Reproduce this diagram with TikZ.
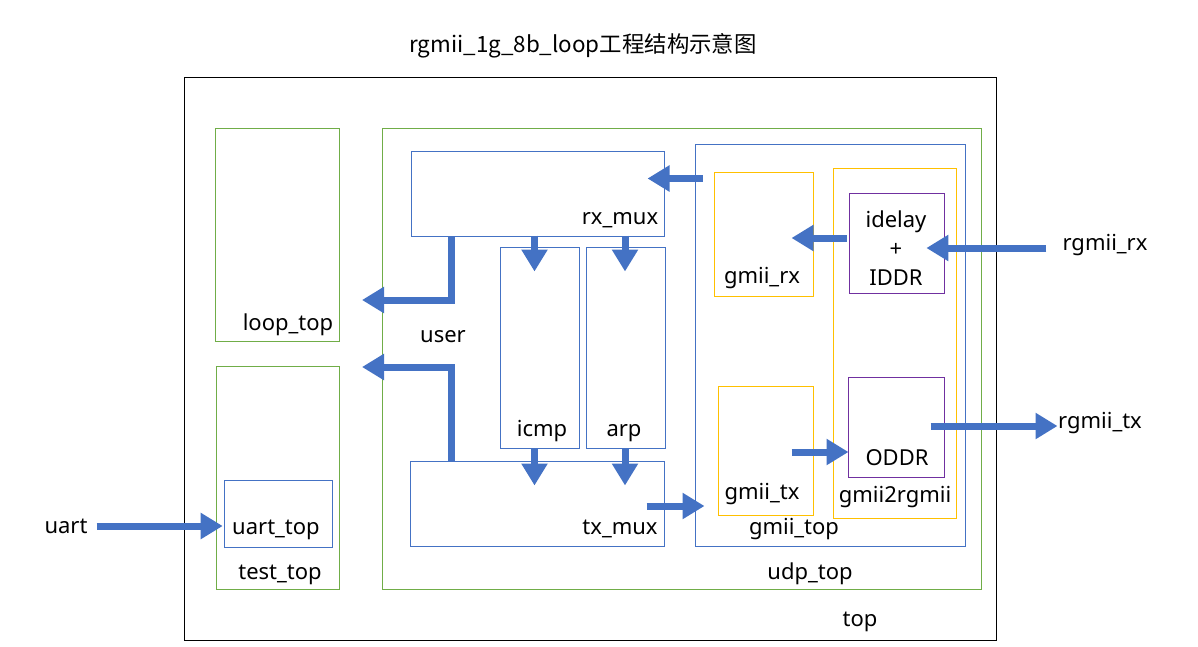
\documentclass[tikz,border=0pt]{standalone}
\usepackage{fontspec}
\setmainfont{Noto Sans}
\newfontfamily\cjk{Noto Sans CJK SC}
\usetikzlibrary{arrows.meta,positioning,calc,fit}

\definecolor{flowblue}{HTML}{4472C4}
\definecolor{modgreen}{HTML}{70AD47}
\definecolor{modyellow}{HTML}{FFC000}
\definecolor{modpurple}{HTML}{7030A0}

\begin{document}
\begin{tikzpicture}[
    x=1pt, y=-1pt,
    every node/.style={
        font=\fontsize{22}{29}\selectfont,
        align=center
    },
    box/.style={
        draw,
        line width=1pt,
        inner sep=0pt
    },
    topbox/.style={box, draw=black},
    greenbox/.style={box, draw=modgreen},
    bluebox/.style={box, draw=flowblue},
    yellowbox/.style={box, draw=modyellow},
    purplebox/.style={box, draw=modpurple},
    tag/.style={inner sep=0pt},
    flow/.style={
        draw=flowblue,
        line width=7pt,
        -{Triangle[length=22pt,width=25pt]}
    }
]

\useasboundingbox (0,0) rectangle (1198,646);

% ============================================================
% Title
% ============================================================

\node[tag, font=\fontsize{22.4}{28}\selectfont] (title) at (583,46)
{\cjk rgmii\_1g\_8b\_loop工程结构示意图};

% ============================================================
% Outer frame and sub-modules
% ============================================================

\node[topbox, fit={(184,77) (996,640)}] (top) {};
\node[tag] (toplbl) at (860,622) {top};

\node[greenbox, fit={(215,128) (339,341)}] (looptop) {};
\node[tag] (looplbl) at (288,325) {loop\_top};

\node[greenbox, fit={(216,366) (339,589)}] (testtop) {};
\node[tag] (testlbl) at (280,575) {test\_top};

\node[bluebox, fit={(224,480) (332,547)}] (uarttop) {};
\node[tag] (uartlbl) at (276,530) {uart\_top};

\node[greenbox, fit={(382,128) (981,589)}] (udptop) {};
\node[tag] (udplbl) at (810,574) {udp\_top};

% ============================================================
% udp_top internals
% ============================================================

\node[bluebox, fit={(411,151) (664,236)}] (rxmux) {};
\node[tag] (rxmuxlbl) at (620,220) {rx\_mux};

\node[bluebox, fit={(500,247) (579,448)}] (icmp) {};
\node[tag] (icmplbl) at (542,431) {icmp};

\node[bluebox, fit={(586,247) (665,448)}] (arp) {};
\node[tag] (arplbl) at (624,433) {arp};

\node[bluebox, fit={(410,461) (664,546)}] (txmux) {};
\node[tag] (txmuxlbl) at (620,529) {tx\_mux};

\node[tag] (user) at (443,337) {user};

% ============================================================
% gmii_top internals
% ============================================================

\node[bluebox, fit={(695,144) (965,546)}] (gmiitop) {};
\node[tag] (gmiitoplbl) at (794,529) {gmii\_top};

\node[yellowbox, fit={(714,172) (813,296)}] (gmiirx) {};
\node[tag] (gmiirxlbl) at (762,278) {gmii\_rx};

\node[yellowbox, fit={(718,386) (813,515)}] (gmiitx) {};
\node[tag] (gmiitxlbl) at (762,494) {gmii\_tx};

\node[yellowbox, fit={(833,168) (956,518)}] (gmii2rgmii) {};
\node[tag] (gmii2rgmiilbl) at (895,497) {gmii2rgmii};

\node[purplebox, fit={(849,193) (944,293)}] (idelay) {};
\node[tag] (idelaylbl) at (896,248) {idelay\\+\\IDDR};

\node[purplebox, fit={(848,377) (944,477)}] (oddr) {};
\node[tag] (oddrlbl) at (897,458) {ODDR};

% ============================================================
% External ports
% ============================================================

\node[tag] (uart) at (66,526) {uart};
\node[tag] (rgmiirx) at (1105,245) {rgmii\_rx};
\node[tag] (rgmiitx) at (1100,423) {rgmii\_tx};

% ============================================================
% Data flow
% ============================================================

\coordinate (toloop) at (362,300);
\coordinate (fromtest) at (362,367);

\draw[flow] (rgmiirx.west) ++(-16,3) -- ++(-120,0);
\draw[flow] (idelay.west) ++(-2,-5) -- ++(-55,0);
\draw[flow] (gmiitop.north west) ++(8,35) -- ++(-55,0);

\draw[flow] ($(rxmux.south west)+(41,0)$) |- (toloop);
\draw[flow] ($(txmux.north west)+(42,0)$) |- (fromtest);

\draw[flow] (icmp.north) ++(-5,-11) -- ++(0,36);
\draw[flow] (arp.north) ++(-0.5,-11) -- ++(0,36);
\draw[flow] (icmp.south) ++(-5,0) -- ++(0,37);
\draw[flow] (arp.south) ++(-0.5,0) -- ++(0,37);

\draw[flow] (txmux.east) ++(-18,2.5) -- ++(58,0);
\draw[flow] (gmiitx.east) ++(-22,1.5) -- ++(57,0);
\draw[flow] (oddr.east) ++(-14,-1) -- ++(127,0);

\draw[flow] (uart.east) ++(9,0) -- ++(126,0);

\end{tikzpicture}
\end{document}
